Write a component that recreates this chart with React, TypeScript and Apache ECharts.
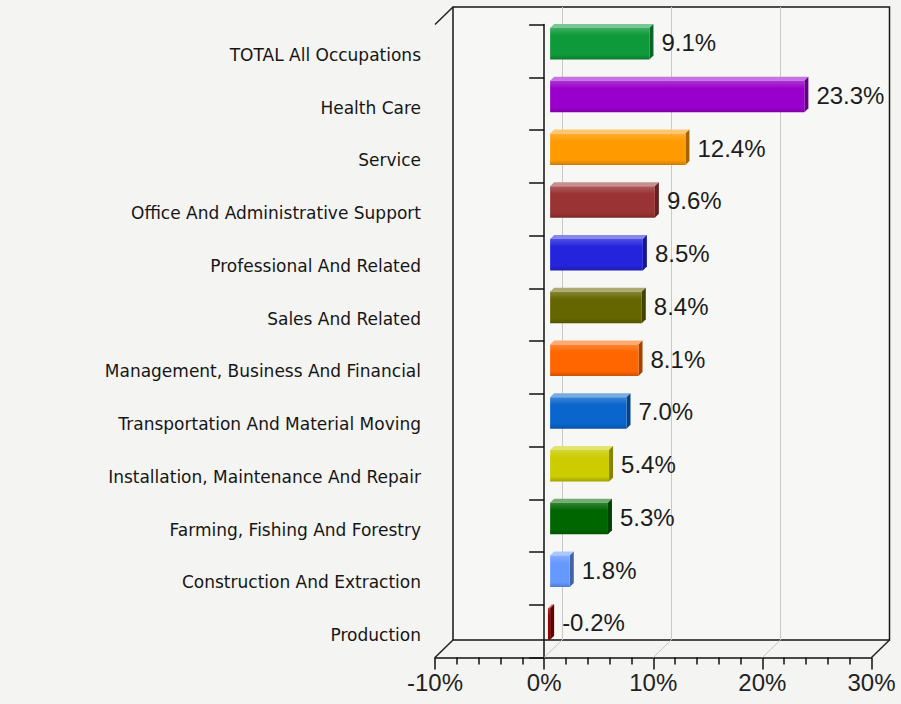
import React, { useEffect, useRef } from 'react';
import * as echarts from 'echarts';

const categories = [
  'TOTAL All Occupations',
  'Health Care',
  'Service',
  'Office And Administrative Support',
  'Professional And Related',
  'Sales And Related',
  'Management, Business And Financial',
  'Transportation And Material Moving',
  'Installation, Maintenance And Repair',
  'Farming, Fishing And Forestry',
  'Construction And Extraction',
  'Production',
];
const values = [9.1, 23.3, 12.4, 9.6, 8.5, 8.4, 8.1, 7.0, 5.4, 5.3, 1.8, -0.2];
const barColors = [
  '#0e9a3a', '#9a00cc', '#ff9a00', '#9a3333', '#2424dd', '#666600',
  '#ff6600', '#0a66cc', '#cccc00', '#006600', '#6699ff', '#990000',
];
const xTicks = [-10, 0, 10, 20, 30];

const DX = 18;
const DY = 17.5;

function mix(hex: string, target: number, amt: number): string {
  const n = parseInt(hex.slice(1), 16);
  const r = (n >> 16) & 255, g = (n >> 8) & 255, b = n & 255;
  const f = (c: number) => Math.round(c + (target - c) * amt);
  return `rgb(${f(r)},${f(g)},${f(b)})`;
}

export default function App() {
  const ref = useRef<HTMLDivElement>(null);
  useEffect(() => {
    document.body.style.margin = '0';
    const chart = echarts.init(ref.current!, null, { renderer: 'svg' });
    const option: any = {
      animation: false,
      backgroundColor: '#f4f4f2',
      grid: [
        { left: 453, top: 7, width: 436.5, height: 633, show: true, backgroundColor: '#f7f7f5', borderColor: '#161616', borderWidth: 1.5 },
        { left: 435, top: 24.5, width: 436.5, height: 633 },
      ],
      xAxis: [
        {
          gridIndex: 0, type: 'value', min: -10, max: 30, interval: 10,
          axisLine: { show: false }, axisTick: { show: false }, axisLabel: { show: false },
          splitLine: { show: true, showMinLine: false, showMaxLine: false, lineStyle: { color: '#c8c8c8', width: 1 } },
        },
        {
          gridIndex: 1, type: 'value', min: -10, max: 30, interval: 10, position: 'bottom',
          axisLine: { show: true, onZero: false, lineStyle: { color: '#111', width: 1.5 } },
          axisTick: { show: true, length: 12, lineStyle: { color: '#111', width: 1.5 } },
          minorTick: { show: true, splitNumber: 5, length: 7, lineStyle: { color: '#111', width: 1.5 } },
          axisLabel: { formatter: (v: number) => v + '%', fontSize: 24, fontFamily: 'Liberation Sans', color: '#222', margin: 13 },
          splitLine: { show: false },
        },
      ],
      yAxis: [
        { gridIndex: 0, type: 'category', data: categories, inverse: true, show: false, splitLine: { show: false } },
        {
          gridIndex: 1, type: 'category', data: categories, inverse: true,
          axisLine: { show: true, lineStyle: { color: '#111', width: 1.5 } },
          axisTick: { show: true, length: 15, lineStyle: { color: '#111', width: 1.5 } },
          axisLabel: {
            margin: 14,
            formatter: (v: string) => `{a|${v}}`,
            rich: { a: { fontSize: 17, fontFamily: 'DejaVu Sans', color: '#161616', padding: [8, 0, 0, 0] } },
          },
          splitLine: { show: false },
        },
      ],
      series: [
        {
          type: 'custom', name: 'frame', xAxisIndex: 1, yAxisIndex: 1, clip: false, silent: true, z: 1,
          encode: { x: 0, y: 1 },
          data: xTicks.map((v) => [v, 0]),
          renderItem: (params: any, api: any) => {
            const v = api.value(0);
            const x = api.coord([v, 0])[0];
            const cs = params.coordSys;
            const bottom = cs.y + cs.height;
            const edge = v === xTicks[0] || v === xTicks[xTicks.length - 1];
            const children: any[] = [
              { type: 'line', shape: { x1: x, y1: bottom, x2: x + DX, y2: bottom - DY }, style: { stroke: edge ? '#222' : '#c8c8c8', lineWidth: edge ? 1.5 : 1 } },
            ];
            if (v === xTicks[0]) {
              children.push({ type: 'line', shape: { x1: x, y1: cs.y, x2: x + DX, y2: cs.y - DY }, style: { stroke: '#222', lineWidth: 1.5 } });
            }
            return { type: 'group', children };
          },
        },
        {
          type: 'custom', name: 'bars', xAxisIndex: 1, yAxisIndex: 1, clip: false, z: 3,
          encode: { x: 0, y: 1 },
          data: values.map((v, i) => [v, i]),
          renderItem: (params: any, api: any) => {
            const v = api.value(0);
            const i = api.value(1);
            const p0 = api.coord([0, i]);
            const p1 = api.coord([v, i]);
            const color = barColors[i];
            const ox = 6;
            const d = 4;
            const h = 31.6;
            const xl = Math.min(p0[0], p1[0]) + ox;
            const xr = Math.max(p0[0], p1[0]) + ox;
            const yf0 = p0[1] - 23;
            const yf1 = yf0 + h;
            const top = [[xl, yf0], [xl + d, yf0 - d], [xr + d, yf0 - d], [xr, yf0]];
            const side = [[xr, yf0], [xr + d, yf0 - d], [xr + d, yf1 - d], [xr, yf1]];
            return {
              type: 'group',
              children: [
                { type: 'polygon', shape: { points: top }, style: { fill: mix(color, 255, 0.45) } },
                { type: 'polygon', shape: { points: side }, style: { fill: mix(color, 0, 0.35) } },
                {
                  type: 'rect', shape: { x: xl, y: yf0, width: Math.max(xr - xl, 0.5), height: h },
                  style: {
                    fill: new echarts.graphic.LinearGradient(0, 0, 0, 1, [
                      { offset: 0, color: mix(color, 255, 0.2) },
                      { offset: 0.25, color: color },
                      { offset: 0.85, color: color },
                      { offset: 1, color: mix(color, 0, 0.2) },
                    ]),
                  },
                },
                {
                  type: 'text',
                  style: {
                    text: v.toFixed(1) + '%', x: xr + d + 8, y: yf0 + h / 2 - 1,
                    fill: '#1c1c1c', fontSize: 24, fontFamily: 'Liberation Sans',
                    verticalAlign: 'middle', align: 'left',
                  },
                },
              ],
            };
          },
        },
      ],
    };
    chart.setOption(option);
    return () => chart.dispose();
  }, []);
  return <div ref={ref} style={{ position: 'absolute', left: 0, top: 0, width: 901, height: 704 }} />;
}
